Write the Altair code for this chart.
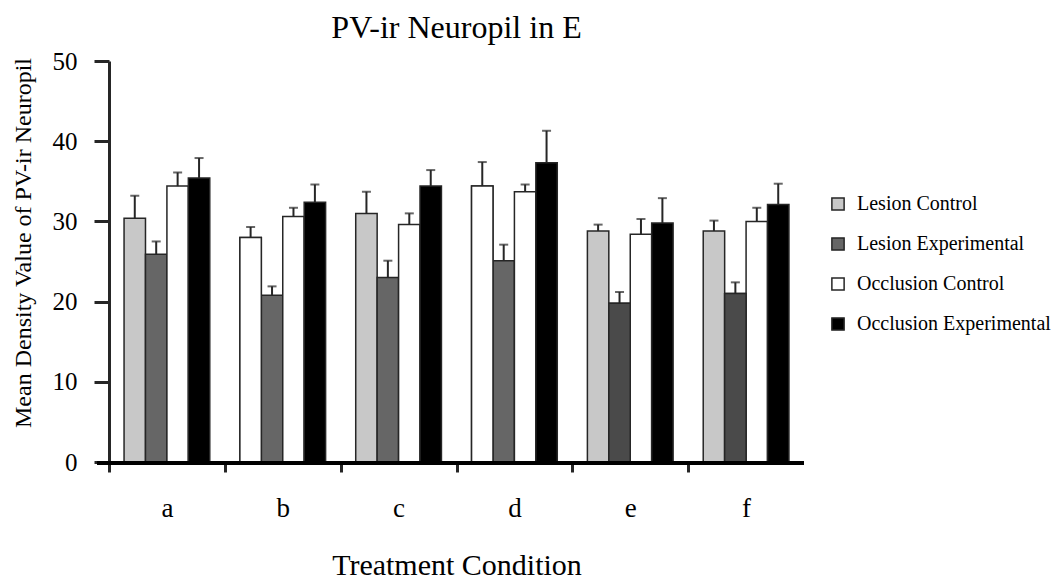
import altair as alt
import pandas as pd

groups = ["a", "b", "c", "d", "e", "f"]
series = ["Lesion Control", "Lesion Experimental", "Occlusion Control", "Occlusion Experimental"]

lesion_control = [30.4, 28.0, 31.0, 34.4, 28.8, 28.8]
lesion_experimental = [25.9, 20.8, 23.0, 25.1, 19.8, 21.0]
occlusion_control = [34.4, 30.6, 29.6, 33.7, 28.4, 30.0]
occlusion_experimental = [35.4, 32.4, 34.4, 37.3, 29.8, 32.1]

sem_lesion_control = [2.8, 1.3, 2.7, 3.0, 0.8, 1.3]
sem_lesion_experimental = [1.6, 1.1, 2.1, 2.0, 1.4, 1.4]
sem_occlusion_control = [1.7, 1.1, 1.4, 0.9, 1.9, 1.7]
sem_occlusion_experimental = [2.5, 2.2, 2.0, 4.0, 3.1, 2.6]

series_colors = ["#c8c8c8", "#666666", "#ffffff", "#000000"]
# bars that the source figure shades differently from their series
shade_overrides = [
    ("b", "Lesion Control", "#ffffff"),
    ("d", "Lesion Control", "#ffffff"),
    ("e", "Lesion Experimental", "#4a4a4a"),
    ("f", "Lesion Experimental", "#4a4a4a"),
]

means = [lesion_control, lesion_experimental, occlusion_control, occlusion_experimental]
sems = [sem_lesion_control, sem_lesion_experimental, sem_occlusion_control, sem_occlusion_experimental]

rows = []
for s, m, e in zip(series, means, sems):
    for g, mv, ev in zip(groups, m, e):
        rows.append({"group": g, "series": s, "mean": mv, "upper": round(mv + ev, 2)})
df = pd.DataFrame(rows)
ov = pd.DataFrame(shade_overrides, columns=["group", "series", "fill"]).merge(df, on=["group", "series"])

FONT = "Liberation Serif"
W, H = 695, 401
INK = "#262626"

xscale = alt.Scale(domain=groups, paddingInner=0.26, paddingOuter=0.13)
xoscale = alt.Scale(domain=series, paddingInner=0, paddingOuter=0)
yscale = alt.Scale(domain=[0, 50])

x_axis = alt.Axis(
    title="Treatment Condition", labelAngle=0, domain=False,
    tickOffset=-W / 12, labelOffset=W / 12, tickSize=10, tickWidth=3, tickColor=INK,
    labelFont=FONT, labelFontSize=27, labelColor="black", labelPadding=23,
    titleFont=FONT, titleFontSize=30, titleFontWeight="normal", titleColor="black",
    titlePadding=29,
)
y_axis = alt.Axis(
    title="Mean Density Value of PV-ir Neuropil", values=[0, 10, 20, 30, 40, 50],
    grid=False, domainColor=INK, domainWidth=3, tickColor=INK, tickWidth=3, tickSize=15,
    labelFont=FONT, labelFontSize=25, labelColor="black", labelPadding=17,
    titleFont=FONT, titleFontSize=24, titleFontWeight="normal", titleColor="black",
    titlePadding=17, titleY=H / 2 - 19,
)

X = alt.X("group:N", sort=groups, scale=xscale, axis=x_axis)
XO = alt.XOffset("series:N", sort=series, scale=xoscale)


def Y(field):
    return alt.Y(field, scale=yscale, axis=y_axis)


bars = alt.Chart(df).mark_bar(stroke=INK, strokeWidth=1.5).encode(
    x=X, xOffset=XO, y=Y("mean:Q"),
    color=alt.Color(
        "series:N", sort=series,
        scale=alt.Scale(domain=series, range=series_colors),
        legend=alt.Legend(
            title=None, orient="none", legendX=719, legendY=133, padding=0,
            symbolType="square", symbolSize=150, symbolStrokeColor=INK,
            symbolStrokeWidth=1.5, symbolOpacity=1,
            labelFont=FONT, labelFontSize=20, labelColor="black", labelLimit=400,
            labelOffset=9, rowPadding=20,
        ),
    ),
)

over = alt.Chart(ov).mark_bar(stroke=INK, strokeWidth=1.5).encode(
    x=X, xOffset=XO, y=Y("mean:Q"),
    fill=alt.Fill("fill:N", scale=None),
)

err = alt.Chart(df).mark_rule(color=INK, strokeWidth=2).encode(
    x=X, xOffset=XO, y=Y("mean:Q"), y2="upper:Q",
)
caps = alt.Chart(df).mark_tick(color=INK, thickness=2, size=9, orient="horizontal").encode(
    x=X, xOffset=XO, y=Y("upper:Q"),
)

baseline = alt.Chart(pd.DataFrame({"v": [0]})).mark_rule(color="black", strokeWidth=4).encode(
    x=alt.value(-12), x2=alt.value(W), y=alt.value(H + 1),
)

chart = alt.layer(bars, over, err, caps, baseline).properties(
    width=W, height=H,
    background="white",
    title=alt.TitleParams(
        "PV-ir Neuropil in E", font=FONT, fontSize=32, fontWeight="normal",
        color="black", anchor="middle", offset=4,
    ),
    autosize=alt.AutoSizeParams(type="none"),
    padding={"left": 101, "top": 53, "right": 251, "bottom": 121},
).configure_view(stroke=None)

chart.save("out.html", embed_options={"renderer": "svg", "actions": False})
